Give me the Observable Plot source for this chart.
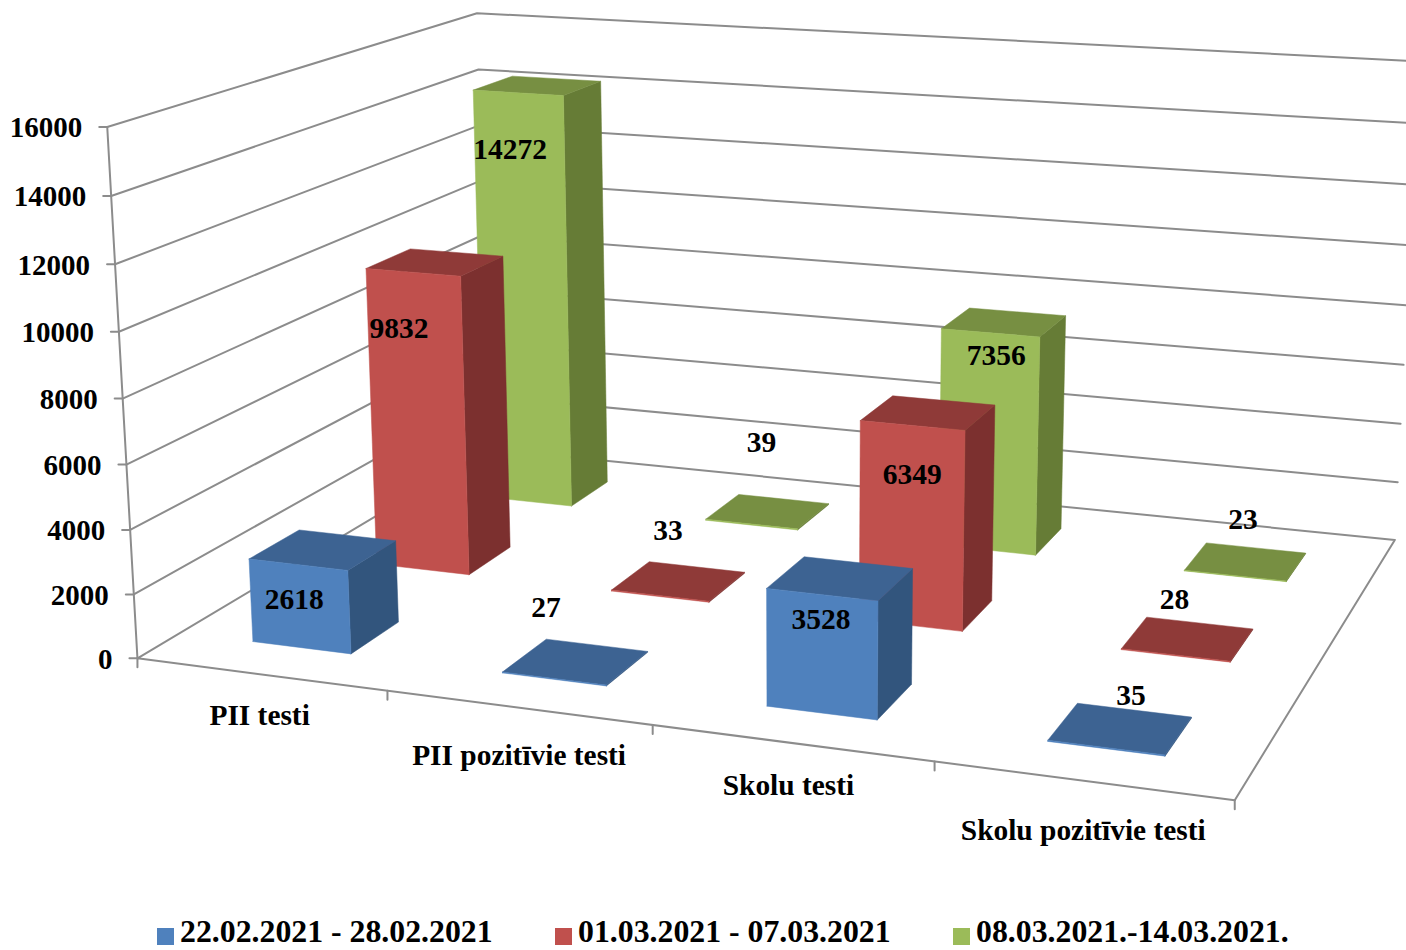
<!DOCTYPE html>
<html><head><meta charset="utf-8">
<script src="https://cdn.jsdelivr.net/npm/d3@7"></script>
<script src="https://cdn.jsdelivr.net/npm/@observablehq/plot@0.6"></script>
<style>
html,body{margin:0;padding:0;background:#fff;overflow:hidden}
#legend{position:relative;display:flex;padding-left:157px;height:30px;font:bold 31.8px "Liberation Serif",serif;color:#000;line-height:30px;white-space:nowrap}
#legend .item{width:398px;display:flex;align-items:center}
#legend span{position:relative;top:-3px}
#legend i{display:inline-block;width:17px;height:17px;margin-right:6px;margin-top:2px}
</style></head><body>
<div id="chart"></div><div id="legend"></div>
<script>
const categories = ["PII testi","PII pozitīvie testi","Skolu testi","Skolu pozitīvie testi"];
const seriesNames = ["22.02.2021 - 28.02.2021","01.03.2021 - 07.03.2021","08.03.2021.-14.03.2021."];
const week1 = [2618,27,3528,35];
const week2 = [9832,33,6349,28];
const week3 = [14272,39,7356,23];
const yTicks = [0,2000,4000,6000,8000,10000,12000,14000,16000];
const yMax = 16000;
const faceColors = [
  {front:"#4F81BD",top:"#3D6392",side:"#32557D"},
  {front:"#C0504D",top:"#8F3A38",side:"#7C302F"},
  {front:"#9BBB59",top:"#778F42",side:"#667C36"}
];
// hand placement of each value label, relative to its bar
const labelNudge = [
  [[-4,-15],[-8,-16],[-1,-25],[25,3]],
  [[-14,6],[8,-10],[0,-1],[-1,0]],
  [[-8,7],[10,-26],[6,-27],[8,-1]]
];
const catNudge = [[-1,-2],[1,0],[-3,0],[1,2]];
const W=1406,H=920;
// camera calibration: box corners (u along categories, v in depth, w in height)
const calib=[[0,0,0,136,657],[0,0,0,136,657],[0,0,0,136,657],[1,0,0,1235,801],[1,1,0,1393,538],[0,1,0,491,451],[0,0,1,109,128],[0,1,1,475,12],[1,1,1,1418,61],[0,1,.875,477,68],[1,1,.875,1416,123]];
function solve(A,b){const n=b.length,M=A.map((r,i)=>[...r,b[i]]);
  for(let i=0;i<n;i++){let p=i;for(let k=i+1;k<n;k++)if(Math.abs(M[k][i])>Math.abs(M[p][i]))p=k;[M[i],M[p]]=[M[p],M[i]];
    for(let k=i+1;k<n;k++){const f=M[k][i]/M[i][i];for(let j=i;j<=n;j++)M[k][j]-=f*M[i][j];}}
  const x=Array(n).fill(0);for(let i=n-1;i>=0;i--){let s=M[i][n];for(let j=i+1;j<n;j++)s-=M[i][j]*x[j];x[i]=s/M[i][i];}return x;}
const rows=[],rhs=[];
for(const [X,Y,Z,px,py] of calib){const x=px/1000,y=py/1000;
  rows.push([X,Y,Z,1,0,0,0,0,-x*X,-x*Y,-x*Z]);rhs.push(x);
  rows.push([0,0,0,0,X,Y,Z,1,-y*X,-y*Y,-y*Z]);rhs.push(y);}
const ATA=Array.from({length:11},(_,i)=>Array.from({length:11},(_,j)=>d3.sum(rows,r=>r[i]*r[j])));
const ATb=Array.from({length:11},(_,i)=>d3.sum(rows,(r,k)=>r[i]*rhs[k]));
const P=solve(ATA,ATb);
function proj(u,v,w){const d=P[8]*u+P[9]*v+P[10]*w+1;
  return [1000*(P[0]*u+P[1]*v+P[2]*w+P[3])/d,1000*(P[4]*u+P[5]*v+P[6]*w+P[7])/d];}

// frame
const frame=[];
let fid=0;
function seg(...pts){const id=fid++;for(const p of pts)frame.push({id,x:p[0],y:p[1]});}
for(const t of yTicks){const w=t/yMax;
  if(t>0) seg(proj(0,0,w),proj(0,1,w),proj(1,1,w));
  const p=proj(0,0,w);seg([p[0]-8,p[1]],p);}
seg(proj(0,0,0),proj(1,0,0),proj(1,1,0),proj(0,1,0),proj(0,0,0));
seg(proj(0,0,0),proj(0,0,1));
for(const u of [0,.25,.5,.75,1]){const p=proj(u,0,0);seg(p,[p[0],p[1]+9]);}

// bars
const catHalf=0.05, depthHalf=0.064;
const allValues=[week1,week2,week3];
const faces=[];let faceId=0;
function face(color,...pts){const id=faceId++;for(const p of [...pts,pts[0]])faces.push({id,fill:color,x:p[0],y:p[1]});}
const depths=[0,1,2].map(s=>(s+.5)/3);
for(const s of [2,1,0]){
  for(let c=3;c>=0;c--){
    const uc=(c+.5)/4,u0=uc-catHalf,u1=uc+catHalf,v0=depths[s]-depthHalf,v1=depths[s]+depthHalf,w=allValues[s][c]/yMax;
    const col=faceColors[s];
    face(col.side,proj(u1,v0,0),proj(u1,v1,0),proj(u1,v1,w),proj(u1,v0,w));
    face(col.top,proj(u0,v0,w),proj(u1,v0,w),proj(u1,v1,w),proj(u0,v1,w));
    face(col.front,proj(u0,v0,0),proj(u1,v0,0),proj(u1,v0,w),proj(u0,v0,w));
  }
}
// value labels
const valueLabels=[];
allValues.forEach((vals,s)=>vals.forEach((val,c)=>{
  const p=proj((c+.5)/4,depths[s]-depthHalf,val/yMax);
  const [dx,dy]=labelNudge[s][c];
  valueLabels.push({x:p[0]+dx,y:p[1]+(val>1000?50:-55)+dy,t:String(val)});
}));
const yLabels=yTicks.map(t=>{const p=proj(0,0,t/yMax);return {x:p[0]-25,y:p[1]+1,t:String(t)};});
const catLabels=categories.map((t,i)=>{const p=proj((i+.5)/4,0,0);return {x:p[0]+catNudge[i][0],y:p[1]+(i%2?48:43)+catNudge[i][1],t};});

const font='"Liberation Serif",serif';
const txt={x:"x",y:"y",text:"t",fill:"#000",fontFamily:font,fontWeight:"bold"};
const plot=Plot.plot({
  width:W,height:H,margin:0,
  x:{domain:[0,W],range:[0,W],axis:null},
  y:{domain:[0,H],range:[0,H],axis:null},
  style:{background:"#fff"},
  marks:[
    Plot.line(frame,{x:"x",y:"y",z:"id",stroke:"#8c8c8c",strokeWidth:2,curve:"linear"}),
    Plot.line(faces,{x:"x",y:"y",z:"id",fill:"fill",stroke:"fill",strokeWidth:.5,curve:"linear"}),
    Plot.text(yLabels,{...txt,fontSize:29,textAnchor:"end"}),
    Plot.text(catLabels,{...txt,fontSize:29.4}),
    Plot.text(valueLabels,{...txt,fontSize:29.5})
  ]
});
document.getElementById("chart").append(plot);
plot.style.display="block";
const lg=d3.select("#legend").selectAll(".item").data(seriesNames).join("div").attr("class","item");
lg.append("i").style("background",(d,i)=>faceColors[i].front);
lg.append("span").text(d=>d);
</script>
</body></html>
